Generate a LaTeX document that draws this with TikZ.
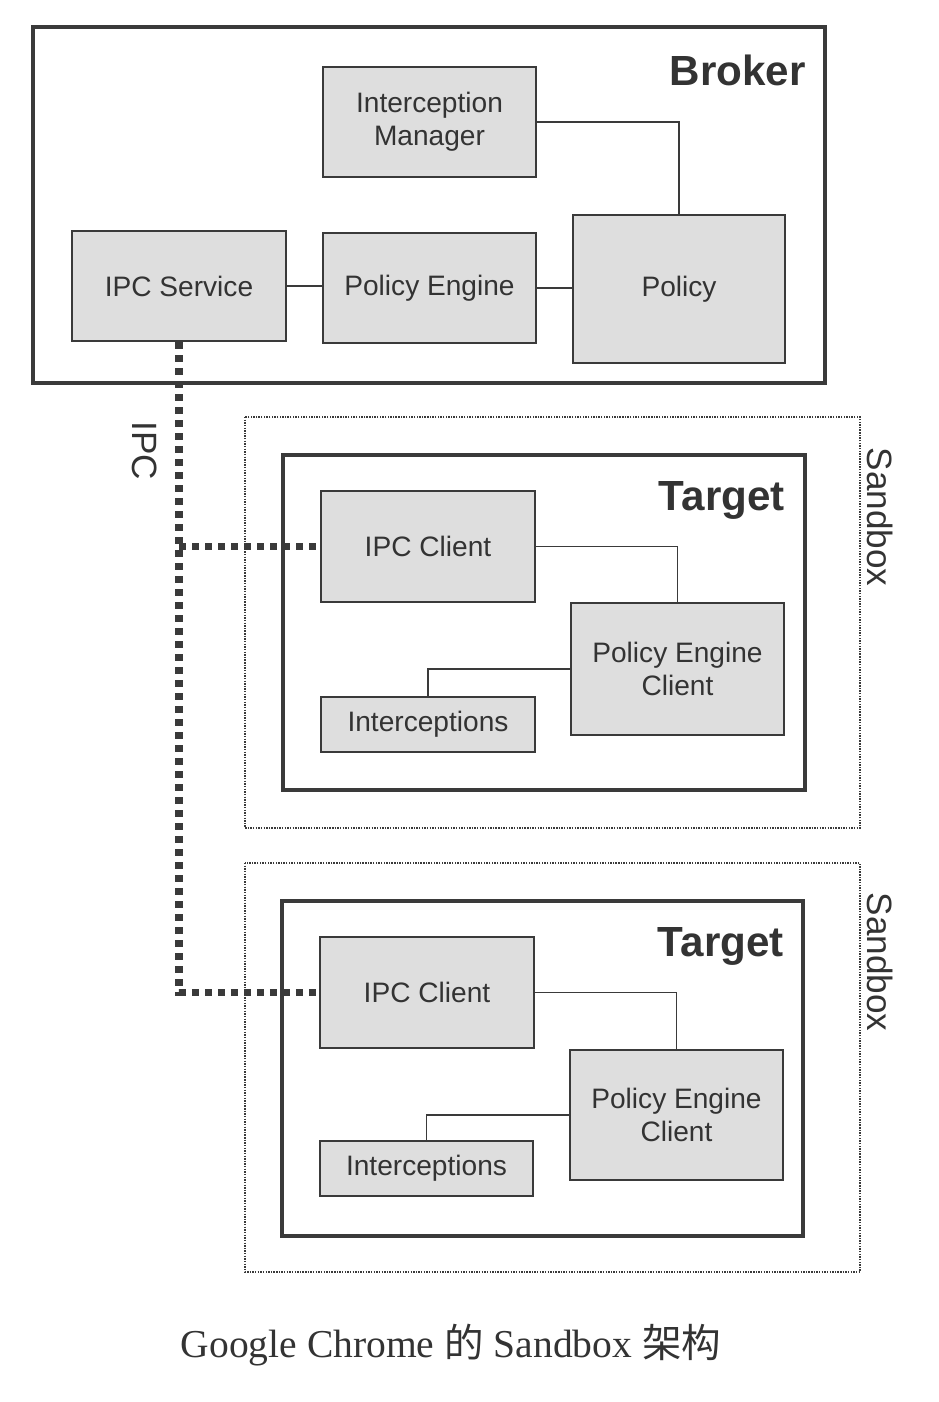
\documentclass[tikz,border=0pt]{standalone}
\usepackage{fontspec}
\setmainfont{Liberation Serif}
\setsansfont{Liberation Sans}
\newfontfamily\cjk{Noto Sans CJK SC}

\definecolor{boxline}{HTML}{3A3A3A}
\definecolor{boxfill}{HTML}{DEDEDE}
\definecolor{ink}{HTML}{333333}

\tikzset{
  compbox/.style={draw=boxline, fill=boxfill, line width=1.4pt, inner sep=0pt,
    minimum width=4.27cm, minimum height=2.2cm, align=center, text=ink,
    font=\sffamily\fontsize{16}{19}\selectfont},
  outerbox/.style={draw=boxline, line width=2.3pt},
  sandboxline/.style={draw=boxline, line width=1.2pt, dash pattern=on 0.8pt off 0.7pt},
  wire/.style={draw=boxline, line width=1.1pt},
  ipcline/.style={draw=boxline, line width=4.5pt, dash pattern=on 4pt off 3.4pt},
  boxtitle/.style={text=ink, inner sep=0pt, font=\sffamily\bfseries\fontsize{24}{28}\selectfont},
  sidelabel/.style={text=ink, inner sep=0pt, rotate=-90, font=\sffamily\fontsize{20}{24}\selectfont},
}

\begin{document}
\begin{tikzpicture}[x=0.02cm, y=-0.02cm]

\useasboundingbox (0,0) rectangle (938,1402);

% broker
\draw[outerbox] (33,27) rectangle (825,383);
\node[boxtitle, anchor=base east] (broker) at (806,86) {Broker};

\node[compbox] (imgr) at (429.5,122) {Interception\\Manager};
\node[compbox, minimum width=4.28cm] (ipcsvc) at (179,286) {IPC Service};
\node[compbox] (peng) at (429.5,288) {Policy Engine};
\node[compbox, minimum width=4.24cm, minimum height=2.96cm] (policy) at (679,289) {Policy};

\draw[wire] (ipcsvc.east) -- (ipcsvc.east -| peng.west);
\draw[wire] (peng.east) -- (peng.east -| policy.west);
\draw[wire] (imgr.east) -| (policy.north);

% first sandbox
\draw[sandboxline] (245,417) rectangle (860,828);
\draw[outerbox] (283,455) rectangle (805,790);
\node[boxtitle, anchor=base east] (target1) at (785,510) {Target};
\node[sidelabel] (sandbox1) at (880,517) {Sandbox};

\node[compbox, minimum width=4.28cm, minimum height=2.22cm] (ipcc1) at (428,546.5) {IPC Client};
\node[compbox, minimum height=2.64cm,
  font=\sffamily\fontsize{16}{18.5}\selectfont] (pec1) at (677.5,669) {Policy Engine\\Client};
\node[compbox, minimum width=4.28cm, minimum height=1.1cm] (intc1) at (428,724.5) {Interceptions};

\draw[wire] (ipcc1.east) -| (pec1.north);
\draw[wire] (intc1.north) |- (pec1.west);

% second sandbox
\draw[sandboxline] (245,863) rectangle (860,1272);
\draw[outerbox] (282,901) rectangle (803,1236);
\node[boxtitle, anchor=base east] (target2) at (784,956) {Target};
\node[sidelabel] (sandbox2) at (880,962) {Sandbox};

\node[compbox, minimum width=4.28cm, minimum height=2.22cm] (ipcc2) at (427,992.5) {IPC Client};
\node[compbox, minimum height=2.6cm,
  font=\sffamily\fontsize{16}{18.5}\selectfont] (pec2) at (676.5,1115) {Policy Engine\\Client};
\node[compbox, minimum height=1.1cm] (intc2) at (426.5,1168.5) {Interceptions};

\draw[wire] (ipcc2.east) -| (pec2.north);
\draw[wire] (intc2.north) |- (pec2.west);

% ipc channel
\coordinate (ipcbend) at (ipcsvc.south |- ipcc2.west);
\draw[ipcline] (ipcsvc.south) -- (ipcbend) -- (ipcc2.west);
\draw[ipcline] (ipcsvc.south |- ipcc1.west) -- (ipcc1.west);
\node[sidelabel] (ipclabel) at (145,451) {IPC};

% caption
\node[text=ink, font=\fontsize{22.5}{26}\selectfont] (caption) at (451,1345)
  {Google Chrome {\cjk 的} Sandbox {\cjk 架构}};

\end{tikzpicture}
\end{document}
